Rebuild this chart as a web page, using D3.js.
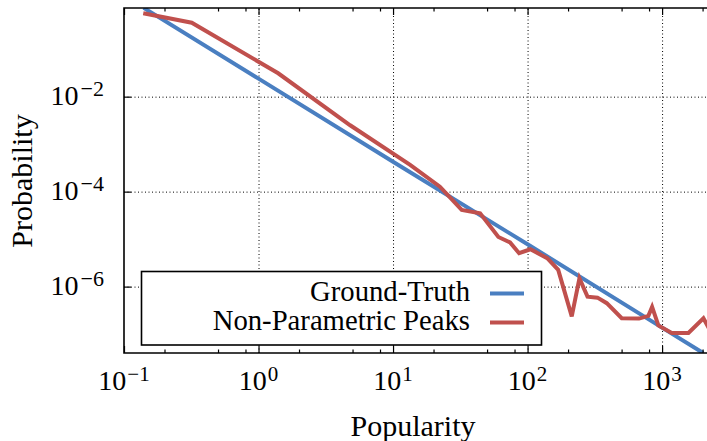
<!DOCTYPE html>
<html>
<head>
<meta charset="utf-8">
<script src="https://cdn.jsdelivr.net/npm/d3@7"></script>
<style>
body { margin: 0; background: #fff; }
svg { display: block; font-family: "Liberation Serif", "DejaVu Serif", serif; }
</style>
</head>
<body>
<svg id="chart"></svg>
<script>
var truthX = [0.14, 1, 10, 100, 1000, 2020]
var truthY = [0.74, 2.4e-2, 4.26e-4, 7.8e-6, 1.37e-7, 4.0e-8]

// non-parametric peaks estimate
var peaksX = [0.139, 0.319, 1.40, 4.8, 13.4, 22.3, 32.4, 44.4, 60.7, 74.1, 86.5, 105, 140, 169, 213, 243, 279, 331, 388, 501, 674, 791, 843, 938, 1180, 1570, 2029, 2355]
var peaksY = [0.570, 0.361, 3.11e-2, 2.5e-3, 3.65e-4, 1.27e-4, 4.12e-5, 3.51e-5, 1.11e-5, 8.53e-6, 5.05e-6, 6.12e-6, 3.96e-6, 2.25e-6, 2.36e-7, 1.49e-6, 6.15e-7, 5.86e-7, 4.48e-7, 2.16e-7, 2.12e-7, 2.42e-7, 3.74e-7, 1.52e-7, 1.06e-7, 1.06e-7, 2.16e-7, 1.0e-7]

var xMajor = [0.1, 1, 10, 100, 1000]
var xExp = ["\u22121", "0", "1", "2", "3"]
var xMinor = [0.2, 0.5, 0.8, 2, 5, 8, 20, 50, 80, 200, 500, 800, 2000]
var yMajor = [1e-2, 1e-4, 1e-6]
var yExp = ["\u22122", "\u22124", "\u22126"]
var seriesNames = ["Ground-Truth", "Non-Parametric Peaks"]
var colors = ["#4a7fc1", "#c0504d"]

var width = 707, height = 441
var mLeft = 124, mRight = 712, mTop = 8, mBottom = 353

var svg = d3.select("#chart").attr("width", width).attr("height", height)

var x = d3.scaleLog().domain([0.1, 2350]).range([mLeft, mRight])
var y = d3.scaleLog().domain([4.0e-8, 0.736]).range([mBottom, mTop])

svg.append("clipPath").attr("id", "clip")
    .append("rect").attr("x", mLeft).attr("y", mTop)
    .attr("width", mRight - mLeft).attr("height", mBottom - mTop)

// grid
var gx = svg.append("g").attr("transform", "translate(0," + mBottom + ")")
    .call(d3.axisBottom(x).tickValues([1, 10, 100, 1000]).tickSize(-(mBottom - mTop)).tickFormat(""))
var gy = svg.append("g").attr("transform", "translate(" + mLeft + ",0)")
    .call(d3.axisLeft(y).tickValues(yMajor).tickSize(-(mRight - mLeft)).tickFormat(""))
svg.selectAll("g").select(".domain").remove()
svg.selectAll("g .tick line")
    .attr("stroke", "#000")
    .attr("stroke-width", 1)
    .attr("stroke-dasharray", "1,2.5")

// lines
var line = d3.line().x(function(d) { return x(d[0]) }).y(function(d) { return y(d[1]) })
var plot = svg.append("g").attr("clip-path", "url(#clip)")
plot.append("path")
    .datum(d3.zip(truthX, truthY))
    .attr("d", line)
    .attr("fill", "none")
    .attr("stroke", colors[0])
    .attr("stroke-width", 4)
plot.append("path")
    .datum(d3.zip(peaksX, peaksY))
    .attr("d", line)
    .attr("fill", "none")
    .attr("stroke", colors[1])
    .attr("stroke-width", 4)
    .attr("stroke-linejoin", "miter")

// ticks pointing inward
function ticks(axis, vals, size, tr) {
    var g = svg.append("g").attr("transform", tr)
        .call(axis.tickValues(vals).tickSize(size).tickFormat(""))
    g.select(".domain").remove()
    g.selectAll("line").attr("stroke", "#000").attr("stroke-width", 1.2)
}
ticks(d3.axisBottom(x), xMajor, -7, "translate(0," + mBottom + ")")
ticks(d3.axisBottom(x), xMinor, -3.5, "translate(0," + mBottom + ")")
ticks(d3.axisTop(x), xMajor, -7, "translate(0," + mTop + ")")
ticks(d3.axisTop(x), xMinor, -3.5, "translate(0," + mTop + ")")
ticks(d3.axisLeft(y), yMajor, -7, "translate(" + mLeft + ",0)")

// frame
svg.append("path")
    .attr("d", "M" + mRight + "," + mTop + "H" + mLeft + "V" + mBottom + "H" + mRight)
    .attr("fill", "none")
    .attr("stroke", "#000")
    .attr("stroke-width", 1.6)

// tick labels
xMajor.forEach(function(v, i) {
    var t = svg.append("text")
        .attr("x", x(v))
        .attr("y", 390)
        .attr("text-anchor", "middle")
        .style("font-size", "28px")
    t.append("tspan").text("10")
    t.append("tspan").attr("dy", -9).attr("dx", 1).style("font-size", "21px").text(xExp[i])
})
yMajor.forEach(function(v, i) {
    var t = svg.append("text")
        .attr("x", 104)
        .attr("y", y(v) + 8)
        .attr("text-anchor", "end")
        .style("font-size", "28px")
    t.append("tspan").text("10")
    t.append("tspan").attr("dy", -9).attr("dx", 2).style("font-size", "22px").text(yExp[i])
})

// axis titles
svg.append("text")
    .attr("x", 413).attr("y", 436)
    .attr("text-anchor", "middle")
    .style("font-size", "30px")
    .text("Popularity")
svg.append("text")
    .attr("transform", "translate(32,181) rotate(-90)")
    .attr("text-anchor", "middle")
    .style("font-size", "30px")
    .text("Probability")

// legend
var legend = svg.append("g")
legend.append("rect")
    .attr("x", 141.5).attr("y", 271.5)
    .attr("width", 400).attr("height", 73.5)
    .attr("fill", "#fff")
    .attr("stroke", "#000")
    .attr("stroke-width", 1.6)
seriesNames.forEach(function(name, i) {
    legend.append("text")
        .attr("x", 470)
        .attr("y", 301 + 29 * i)
        .attr("text-anchor", "end")
        .style("font-size", "28.7px")
        .text(name)
    legend.append("line")
        .attr("x1", 490).attr("x2", 524)
        .attr("y1", 293.5 + 29 * i).attr("y2", 293.5 + 29 * i)
        .attr("stroke", colors[i])
        .attr("stroke-width", 4)
})
</script>
</body>
</html>
